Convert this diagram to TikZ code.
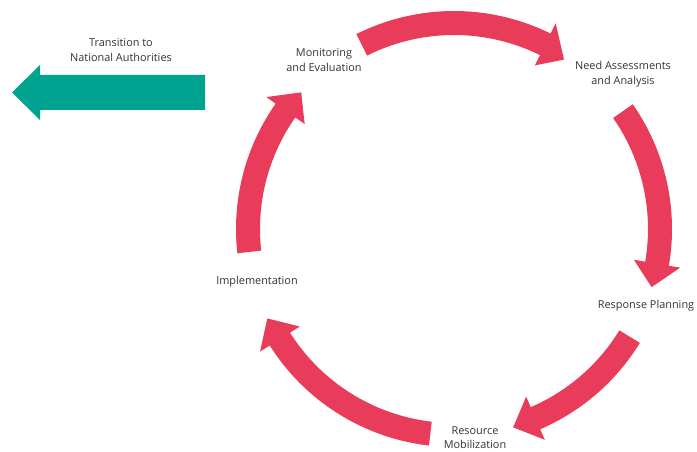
\documentclass[tikz,border=0pt]{standalone}
\usepackage{fontspec}
\setmainfont{Open Sans}
\definecolor{cred}{HTML}{E93C5B}
\definecolor{cteal}{HTML}{00A38F}
\definecolor{ctext}{HTML}{333333}
\newcommand\cycarrow[3]{%
 \pgfmathsetmacro\hb{#2+6.7}%
 \fill[cred] (#1:218) arc[start angle=#1, end angle=\hb, radius=218] -- (\hb:229.5) -- (#2:#3) -- (\hb:182.5) -- (\hb:194) arc[start angle=\hb, end angle=#1, radius=194] -- cycle;}
\begin{document}
\begin{tikzpicture}[x=1pt,y=1pt,
  lbl/.style={font=\fontsize{10.9}{14.5}\selectfont, text=ctext, align=center, inner sep=0pt}]
\useasboundingbox (0,0) rectangle (697,-452);
\begin{scope}[shift={(454,-229)}]
  \cycarrow{116.6}{57}{202}
  \cycarrow{34.9}{-16.4}{206}
  \cycarrow{-31.5}{-73.4}{207}
  \cycarrow{-96.6}{-154.4}{207}
  \cycarrow{-173.6}{-221.8}{205}
\end{scope}
\fill[cteal] (205,-75) -- (40,-75) -- (40,-65) -- (12,-92.5) -- (40,-120) -- (40,-110) -- (205,-110) -- cycle;
\node[lbl] (trans) at (121,-50) {Transition to\\National Authorities};
\node[lbl] (mon) at (324,-60) {Monitoring\\and Evaluation};
\node[lbl] (need) at (623,-74) {Need Assessments\\and Analysis};
\node[lbl] (resp) at (646,-306) {Response Planning};
\node[lbl] (res) at (475,-437.5) {Resource\\Mobilization};
\node[lbl] (impl) at (257,-282) {Implementation};
\end{tikzpicture}
\end{document}
